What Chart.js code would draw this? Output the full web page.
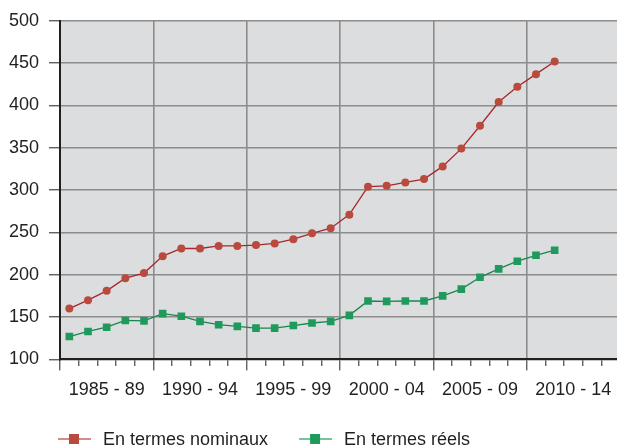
<!DOCTYPE html>
<html>
<head>
<meta charset="utf-8">
<script src="https://cdn.jsdelivr.net/npm/chart.js@4/dist/chart.umd.min.js"></script>
<style>
  html, body { margin: 0; padding: 0; background: #ffffff; overflow: hidden; width: 617px; height: 448px; }
  #c { display: block; }
</style>
</head>
<body>
<canvas id="c" width="620" height="448" style="width:620px;height:448px"></canvas>
<script>
// Categories: one slot per year
const years = [];
for (let y = 1985; y <= 2014; y++) years.push(String(y));

// Group tick labels (one per 5-year block)
const groupLabels = ['1985 - 89', '1990 - 94', '1995 - 99', '2000 - 04', '2005 - 09', '2010 - 14'];

// Series values (1985 .. 2011)
const nominal = [160, 170, 181, 196, 202, 222, 231, 231, 234, 234, 235, 237, 242, 249, 255, 271,
                 304, 305, 309, 313, 328, 349, 376, 404, 422, 437, 452];
const real = [127, 133, 138, 146, 145.5, 154, 151, 145, 141, 139, 137, 137, 140, 143, 145, 152,
              169, 168.5, 169, 169, 175, 183, 197, 207, 216, 223, 229];

const seriesNames = ['En termes nominaux', 'En termes réels'];

const FONT = "'Liberation Sans', Arial, Helvetica, sans-serif";
const TXT = '#231f20';
const GRID = '#8c8c8c';

const bgPlugin = {
  id: 'plotBg',
  beforeDraw(chart) {
    const a = chart.chartArea, ctx = chart.ctx;
    ctx.save();
    ctx.fillStyle = '#dcdddf';
    ctx.fillRect(a.left, a.top, a.right - a.left, a.bottom - a.top);
    ctx.restore();
  }
};

const legendPlugin = {
  id: 'lineLegend',
  afterDraw(chart) {
    const ctx = chart.ctx;
    const y = 439;
    const lineCols = ['#d98a88', '#74c49c'];
    ctx.save();
    ctx.font = '18px ' + FONT;
    ctx.textBaseline = 'middle';
    let x = 58;
    chart.data.datasets.forEach((ds, i) => {
      ctx.strokeStyle = lineCols[i];
      ctx.lineWidth = 2;
      ctx.beginPath();
      ctx.moveTo(x, y);
      ctx.lineTo(x + 33, y);
      ctx.stroke();
      ctx.fillStyle = ds.pointBackgroundColor;
      ctx.fillRect(x + 11, y - 5, 10, 10);
      ctx.fillStyle = TXT;
      ctx.fillText(ds.label, x + 45, y + 1);
      x = x + 45 + ctx.measureText(ds.label).width + 31;
    });
    ctx.restore();
  }
};

new Chart(document.getElementById('c'), {
  type: 'line',
  data: {
    labels: years,
    datasets: [
      {
        label: seriesNames[0],
        data: nominal,
        borderColor: '#a8262e',
        borderWidth: 1.3,
        pointStyle: 'circle',
        pointRadius: 4,
        pointBorderWidth: 0,
        pointBackgroundColor: '#b94a3e',
        pointBorderColor: '#b94a3e',
        tension: 0,
        fill: false
      },
      {
        label: seriesNames[1],
        data: real,
        borderColor: '#17874f',
        borderWidth: 1.3,
        pointStyle: 'rect',
        pointRadius: 5.4,
        pointBorderWidth: 0,
        pointBackgroundColor: '#1f9a5c',
        pointBorderColor: '#1f9a5c',
        tension: 0,
        fill: false
      }
    ]
  },
  options: {
    responsive: false,
    maintainAspectRatio: false,
    animation: false,
    events: [],
    layout: { autoPadding: false, padding: { top: 8, right: 0, bottom: 38, left: 0 } },
    plugins: {
      legend: { display: false },
      tooltip: { enabled: false }
    },
    scales: {
      x: {
        type: 'category',
        offset: true,
        grid: {
          offset: true,
          drawOnChartArea: true,
          color: (c) => (c.index !== undefined && c.index > 0 && c.index < 30 && c.index % 5 === 0) ? GRID : 'rgba(0,0,0,0)',
          lineWidth: 1.6,
          tickColor: TXT,
          tickLength: 11,
          tickWidth: 1,
          tickBorderDash: (c) => (c.index !== undefined && c.index % 5 === 0) ? [] : [6, 40]
        },
        border: { display: true, color: TXT, width: 2 },
        ticks: {
          autoSkip: false,
          maxRotation: 0,
          minRotation: 0,
          padding: 9,
          color: TXT,
          font: { family: FONT, size: 18 },
          callback: (val, i) => (i % 5 === 2 ? groupLabels[Math.floor(i / 5)] : '')
        }
      },
      y: {
        min: 100,
        max: 500,
        afterFit: (s) => { s.width = 60; },
        grid: {
          color: GRID,
          lineWidth: 1.6,
          tickColor: TXT,
          tickLength: 11,
          tickWidth: 1
        },
        border: { display: true, color: TXT, width: 2 },
        ticks: {
          stepSize: 50,
          padding: 10,
          color: TXT,
          font: { family: FONT, size: 18 }
        }
      }
    }
  },
  plugins: [bgPlugin, legendPlugin]
});
</script>
</body>
</html>
